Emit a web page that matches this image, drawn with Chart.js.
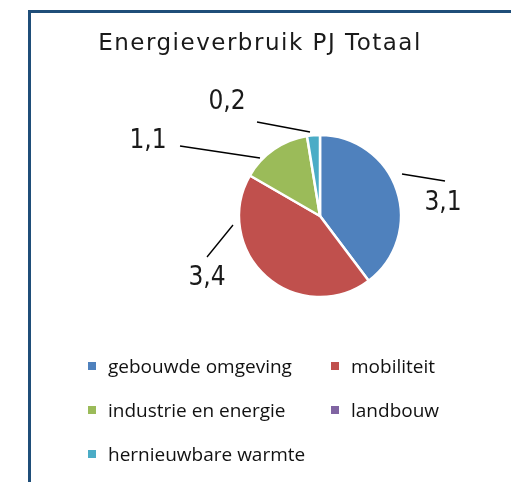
<!DOCTYPE html>
<html>
<head>
<meta charset="utf-8">
<script src="https://cdn.jsdelivr.net/npm/chart.js@4.4.1/dist/chart.umd.min.js"></script>
<style>
  html,body{margin:0;padding:0;background:#fff;}
  #wrap{position:relative;width:511px;height:482px;}
</style>
</head>
<body>
<div id="wrap"><canvas id="chart"></canvas></div>
<script>
// data
const title      = 'Energieverbruik PJ Totaal';
const categories = ['gebouwde omgeving','mobiliteit','industrie en energie','landbouw','hernieuwbare warmte'];
const values     = [3.1, 3.4, 1.1, 0, 0.2];
const valueText  = ['3,1','3,4','1,1','','0,2'];
const colors     = ['#4F81BD','#C0504D','#9BBB59','#8064A2','#4BACC6'];

// leader lines + label spots, relative to pie centre (style only)
const labelSpots = [
  {from:[82,-42],  to:[125,-35], text:[123,-6]},
  {from:[-87,9],   to:[-113,41], text:[-113,69]},
  {from:[-140,-70],to:[-60,-58], text:[-172,-68]},
  null,
  {from:[-63,-94], to:[-10,-84], text:[-93,-107]}
];

const framePlugin={
  id:'frame',
  beforeDraw(chart){
    const ctx=chart.ctx;
    ctx.save();
    ctx.fillStyle='#fff';
    ctx.fillRect(0,0,chart.width,chart.height);
    ctx.fillStyle='#1F4E79';
    ctx.fillRect(28,10,chart.width-28,3);
    ctx.fillRect(28,10,3,chart.height-10);
    // titel
    ctx.fillStyle='#1a1a1a';
    ctx.font='23px "DejaVu Sans"';
    ctx.letterSpacing='1.5px';
    ctx.textAlign='center';
    ctx.textBaseline='alphabetic';
    ctx.fillText(title,260,50);
    ctx.restore();
  }
};

const labelPlugin={
  id:'pieLabels',
  afterDatasetsDraw(chart){
    const ctx=chart.ctx;
    const arcs=chart.getDatasetMeta(0).data;
    ctx.save();
    arcs.forEach((arc,i)=>{
      const s=labelSpots[i];
      if(!s || !valueText[i]) return;
      const cx=arc.x, cy=arc.y;
      ctx.strokeStyle='#000';
      ctx.lineWidth=1.3;
      ctx.beginPath();
      ctx.moveTo(cx+s.from[0],cy+s.from[1]);
      ctx.lineTo(cx+s.to[0],cy+s.to[1]);
      ctx.stroke();
      ctx.fillStyle='#1a1a1a';
      ctx.font='26px "Liberation Sans Narrow", "DejaVu Sans Condensed"';
      ctx.textAlign='center';
      ctx.textBaseline='alphabetic';
      ctx.fillText(valueText[i],cx+s.text[0],cy+s.text[1]);
    });
    ctx.restore();
  }
};

// legenda in twee kolommen
const legendPlugin={
  id:'gridLegend',
  afterDraw(chart){
    const ctx=chart.ctx;
    const labels=chart.data.labels;
    const bg=chart.data.datasets[0].backgroundColor;
    const colX=[88,331], rowY=[373,417,461];
    ctx.save();
    ctx.font='19px "Open Sans"';
    ctx.textAlign='left';
    ctx.textBaseline='alphabetic';
    labels.forEach((lab,i)=>{
      const x=colX[i%2], y=rowY[Math.floor(i/2)];
      ctx.fillStyle=bg[i];
      ctx.fillRect(x,y-11,8,8);
      ctx.fillStyle='#111';
      ctx.fillText(lab,x+20,y);
    });
    ctx.restore();
  }
};

new Chart(document.getElementById('chart'),{
  type:'pie',
  data:{
    labels:categories,
    datasets:[{
      data:values,
      backgroundColor:colors,
      borderColor:'#fff',
      borderWidth:2.5
    }]
  },
  options:{
    responsive:true,
    maintainAspectRatio:false,
    animation:false,
    radius:81,
    layout:{padding:{left:200,right:71,top:100,bottom:150}},
    plugins:{
      legend:{display:false},
      title:{display:false},
      tooltip:{enabled:false}
    }
  },
  plugins:[framePlugin,labelPlugin,legendPlugin]
});
</script>
</body>
</html>
